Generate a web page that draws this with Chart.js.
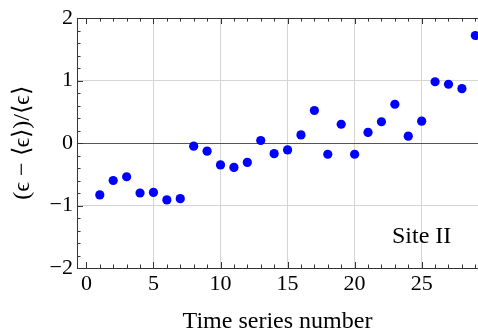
<!DOCTYPE html>
<html>
<head>
<meta charset="utf-8">
<script src="https://cdn.jsdelivr.net/npm/chart.js@4"></script>
<style>
  html, body { margin: 0; padding: 0; background: #fff; }
  canvas { display: block; }
</style>
</head>
<body>
<canvas id="chart" width="478" height="336"></canvas>
<script>
// Relative deviation of each time series from the site mean
const seriesNumbers = [1, 2, 3, 4, 5, 6, 7, 8, 9, 10, 11, 12, 13, 14, 15,
  16, 17, 18, 19, 20, 21, 22, 23, 24, 25, 26, 27, 28, 29];
const deviations = [-0.83, -0.60, -0.54, -0.80, -0.79, -0.91, -0.89, -0.05, -0.13, -0.35,
  -0.39, -0.31, 0.04, -0.17, -0.11, 0.13, 0.52, -0.18, 0.30, -0.18,
  0.17, 0.34, 0.62, 0.11, 0.35, 0.98, 0.94, 0.87, 1.72];

const xTickValues = [0, 5, 10, 15, 20, 25];
const yTickValues = [-2, -1, 0, 1, 2];
const siteLabel = 'Site II';

const serif = "'Liberation Serif', 'Times New Roman', serif";
const frameColor = '#333';
const gridColor = '#d4d4d4';

// Frame with inward major/minor ticks (bottom, top, left)
const frameTicks = {
  id: 'frameTicks',
  afterDatasetsDraw(chart) {
    const { ctx, chartArea: a, scales: { x, y } } = chart;
    ctx.save();
    ctx.strokeStyle = frameColor;
    ctx.lineWidth = 1;
    ctx.beginPath();
    ctx.moveTo(a.left + 0.5, a.top);
    ctx.lineTo(a.left + 0.5, a.bottom);
    ctx.moveTo(a.left, a.bottom + 0.5);
    ctx.lineTo(a.right, a.bottom + 0.5);
    ctx.moveTo(a.left, a.top + 0.5);
    ctx.lineTo(a.right, a.top + 0.5);

    for (let v = 0; v <= x.max; v += 1) {
      const px = Math.round(x.getPixelForValue(v)) + 0.5;
      const len = v % 5 === 0 ? 6 : 3.5;
      ctx.moveTo(px, a.bottom);
      ctx.lineTo(px, a.bottom - len);
      ctx.moveTo(px, a.top);
      ctx.lineTo(px, a.top + len);
    }
    for (let i = -10; i <= 10; i++) {
      const py = Math.round(y.getPixelForValue(i / 5)) + 0.5;
      const len = i % 5 === 0 ? 6 : 3.5;
      ctx.moveTo(a.left, py);
      ctx.lineTo(a.left + len, py);
    }
    ctx.stroke();

    // site annotation
    ctx.fillStyle = '#000';
    ctx.font = '24px ' + serif;
    ctx.textAlign = 'center';
    ctx.textBaseline = 'middle';
    ctx.fillText(siteLabel, x.getPixelForValue(25), y.getPixelForValue(-1.5));
    ctx.restore();
  }
};

new Chart(document.getElementById('chart'), {
  type: 'scatter',
  data: {
    datasets: [{
      data: seriesNumbers.map((n, i) => ({ x: n, y: deviations[i] })),
      backgroundColor: '#0000ff',
      borderWidth: 0,
      pointRadius: 4.6,
      pointHoverRadius: 4.6
    }]
  },
  options: {
    responsive: false,
    animation: false,
    devicePixelRatio: 1,
    layout: { autoPadding: false, padding: { top: 18, right: 0, left: 0, bottom: 0 } },
    plugins: { legend: { display: false }, tooltip: { enabled: false } },
    scales: {
      x: {
        type: 'linear',
        min: -0.7,
        max: 29.2,
        afterBuildTicks: s => { s.ticks = xTickValues.map(v => ({ value: v })); },
        afterFit: s => { s.height = 68; },
        border: { display: false },
        grid: {
          drawTicks: false,
          color: c => (c.tick && c.tick.value === 0 ? 'rgba(0,0,0,0)' : gridColor)
        },
        ticks: {
          padding: 3,
          color: '#000',
          font: { family: serif, size: 22 }
        },
        title: {
          display: true,
          text: 'Time series number',
          color: '#000',
          font: { family: serif, size: 24 },
          padding: { top: 0, bottom: 0 }
        }
      },
      y: {
        min: -2,
        max: 2,
        afterBuildTicks: s => { s.ticks = yTickValues.map(v => ({ value: v })); },
        afterFit: s => { s.width = 77; },
        border: { display: false },
        grid: {
          drawTicks: false,
          color: c => {
            const v = c.tick && c.tick.value;
            if (v === 0) return '#555';
            if (Math.abs(v) === 2) return 'rgba(0,0,0,0)';
            return gridColor;
          }
        },
        ticks: {
          padding: 4,
          color: '#000',
          font: { family: serif, size: 22 },
          callback: v => (v < 0 ? '\u2212' + Math.abs(v) : String(v))
        },
        title: {
          display: true,
          text: '(\u03f5 \u2212 \u27e8\u03f5\u27e9)/\u27e8\u03f5\u27e9',
          color: '#000',
          font: { family: serif, size: 24 },
          padding: { top: 8, bottom: 0 }
        }
      }
    }
  },
  plugins: [frameTicks]
});
</script>
</body>
</html>
